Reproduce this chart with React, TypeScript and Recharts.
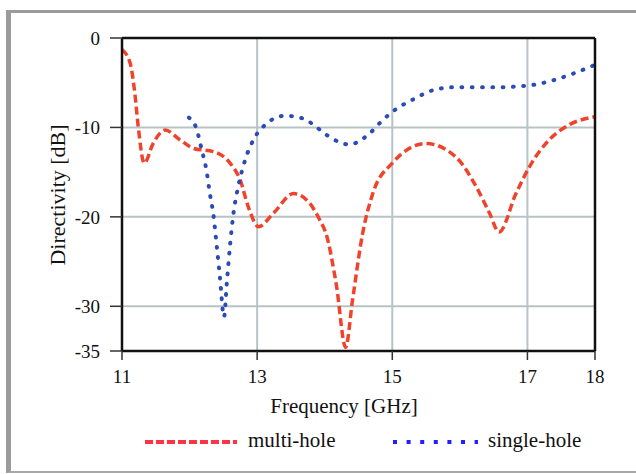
import React from 'react';
import { LineChart, Line, XAxis, YAxis, CartesianGrid, ReferenceLine } from 'recharts';

// multi-hole coupler (red dashed)
const multiFreq = [11.0, 11.12, 11.19, 11.24, 11.33, 11.46, 11.64, 11.86, 12.06, 12.35, 12.6, 12.75, 12.87, 13.02, 13.24, 13.54, 13.78, 13.93, 14.02, 14.17, 14.31, 14.41, 14.56, 14.72, 15.0, 15.5, 15.94, 16.24, 16.44, 16.58, 16.83, 17.03, 17.32, 17.62, 18.0];
const multiDb = [-1.3, -2.8, -6.2, -9.9, -14.0, -11.8, -10.3, -11.4, -12.35, -12.7, -14.0, -15.9, -18.9, -21.1, -19.6, -17.4, -18.5, -20.4, -21.9, -27.5, -34.6, -29.4, -21.9, -17.2, -14.0, -11.8, -13.3, -16.6, -19.6, -21.7, -17.4, -14.4, -11.4, -9.7, -8.8];

// single-hole coupler (blue dotted)
const singleFreq = [11.99, 12.1, 12.18, 12.25, 12.3, 12.35, 12.4, 12.45, 12.51, 12.55, 12.6, 12.65, 12.72, 12.82, 12.97, 13.12, 13.41, 13.68, 13.9, 14.04, 14.36, 14.66, 14.83, 15.0, 15.3, 15.62, 15.94, 16.58, 17.03, 17.35, 17.67, 18.0];
const singleDb = [-8.9, -10.1, -12.5, -14.8, -17.4, -19.6, -23.1, -26.8, -31.2, -27.5, -23.1, -19.6, -16.6, -13.7, -11.05, -9.7, -8.7, -9.0, -10.1, -10.9, -11.9, -10.7, -9.4, -8.25, -6.9, -5.8, -5.5, -5.5, -5.3, -4.8, -4.0, -3.0];

const xTicks = [11, 13, 15, 17, 18];
const yTicks = [0, -10, -20, -30, -35];

const serif = '"Liberation Serif", "DejaVu Serif", serif';

const multiData = multiFreq.map((f, i) => ({ f, db: multiDb[i] }));
const singleData = singleFreq.map((f, i) => ({ f, db: singleDb[i] }));

const App: React.FC = () => {
  const tickStyle = { fontSize: 19, fill: '#111', style: { fontFamily: serif } };
  const txt = { fontFamily: serif, fill: '#111' };
  return (
    <div style={{ position: 'absolute', left: 0, top: 0, width: 636, height: 474, overflow: 'hidden', background: '#fff', fontFamily: serif }}>
      {/* outer frame */}
      <div
        style={{
          position: 'absolute', left: 6, top: 10, width: 700, height: 458,
          borderLeft: '5px solid #9b9b9b', borderTop: '3px solid #9b9b9b', borderBottom: '2px solid #a8a8a8',
        }}
      />
      <div style={{ position: 'absolute', left: 0, top: 0 }}>
        <LineChart width={636} height={474} margin={{ top: 38, right: 41, bottom: 93, left: 0 }} style={{ fontFamily: serif }}>
          <CartesianGrid stroke="#b9c3c6" strokeWidth={2} />
          <XAxis
            type="number"
            dataKey="f"
            domain={[11, 18]}
            ticks={xTicks}
            height={30}
            tickSize={9}
            tickMargin={10}
            axisLine={{ stroke: '#111', strokeWidth: 2.5 }}
            tickLine={{ stroke: '#333', strokeWidth: 1.5 }}
            tick={tickStyle}
            allowDataOverflow
          />
          <YAxis
            type="number"
            domain={[-35, 0]}
            ticks={yTicks}
            width={122}
            tickSize={12}
            tickMargin={10}
            axisLine={{ stroke: '#111', strokeWidth: 2.5 }}
            tickLine={{ stroke: '#333', strokeWidth: 1.5 }}
            tick={tickStyle}
            interval={0}
            allowDataOverflow
          />
          <Line
            data={multiData}
            dataKey="db"
            type="monotone"
            stroke="#f0432c"
            strokeWidth={3.5}
            strokeDasharray="8 4"
            dot={false}
            isAnimationActive={false}
          />
          <Line
            data={singleData}
            dataKey="db"
            type="monotone"
            stroke="#2b4bb5"
            strokeWidth={4}
            strokeDasharray="0.8 9.5"
            strokeLinecap="round"
            dot={false}
            isAnimationActive={false}
          />
          <ReferenceLine y={0} stroke="#111" strokeWidth={2.5} />
          <ReferenceLine x={18} stroke="#111" strokeWidth={2.5} />
        </LineChart>
      </div>
      {/* titles and legend */}
      <svg width={636} height={474} style={{ position: 'absolute', left: 0, top: 0, pointerEvents: 'none', fontFamily: serif }}>
        <text x={57} y={195} transform="rotate(-90 57 195)" textAnchor="middle" dominantBaseline="central" fontSize={22} style={txt}>
          Directivity [dB]
        </text>
        <text x={344} y={413} textAnchor="middle" fontSize={21} style={txt}>
          Frequency [GHz]
        </text>
        <line x1={145} y1={442} x2={237} y2={442} stroke="#ff3344" strokeWidth={4} strokeDasharray="8 3" />
        <text x={248} y={447} fontSize={21} style={txt}>multi-hole</text>
        <line x1={393} y1={442} x2={478} y2={442} stroke="#1f1fff" strokeWidth={4} strokeDasharray="4 9.6" />
        <text x={488} y={447} fontSize={21} style={txt}>single-hole</text>
      </svg>
    </div>
  );
};

export default App;
